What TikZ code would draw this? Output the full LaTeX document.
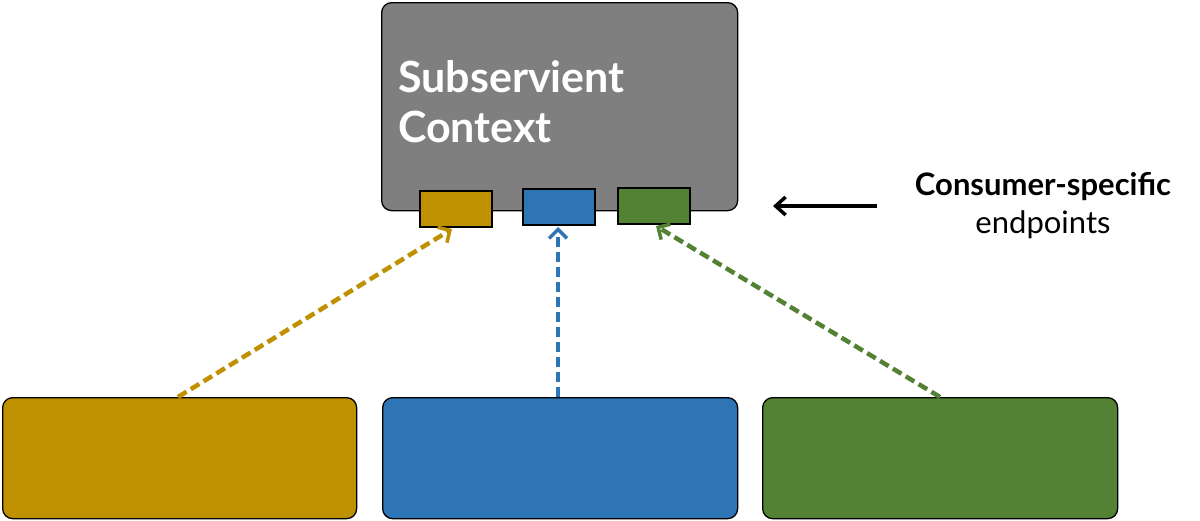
\documentclass[tikz,border=0pt]{standalone}
\usepackage{fontspec}
\setmainfont{Lato}
\usetikzlibrary{arrows.meta}
\definecolor{gold}{RGB}{191,144,0}
\definecolor{bl}{RGB}{46,117,182}
\definecolor{gr}{RGB}{84,130,53}
\definecolor{gy}{RGB}{127,127,127}
\begin{document}
\begin{tikzpicture}[x=1pt,y=-1pt,
 box/.style={draw=black,line width=1.3pt,rounded corners=10pt},
 ep/.style={draw=black,line width=1.3pt,minimum width=72pt,minimum height=36pt,inner sep=0},
 dl/.style={dashed,dash pattern=on 10pt off 5pt,line width=4.5pt,-{Straight Barb[length=9pt,width=18pt,line width=3.5pt]}}]
\useasboundingbox (0,0) rectangle (1200,520);
\node[box,fill=gy,minimum width=356pt,minimum height=208pt,anchor=north west] (main) at (381,2) {};
\node[anchor=north west,text=white,font=\bfseries\fontsize{43}{50}\selectfont,align=left,inner sep=0] (t) at (398,60) {Subservient\\Context};
\node[ep,fill=gold] (e1) at (456,209) {};
\node[ep,fill=bl] (e2) at (559,207) {};
\node[ep,fill=gr] (e3) at (654,206) {};
\node[box,fill=gold,minimum width=354pt,minimum height=121pt,anchor=north west] (b1) at (2,397) {};
\node[box,fill=bl,minimum width=355pt,minimum height=121pt,anchor=north west] (b2) at (382,397) {};
\node[box,fill=gr,minimum width=355pt,minimum height=121pt,anchor=north west] (b3) at (762,397) {};
\coordinate (s1) at (178,397);
\coordinate (s2) at (558,397);
\coordinate (s3) at (940,397);
\draw[dl,gold] (s1) -- (452,229);
\draw[dl,bl] (s2) -- (558,227);
\draw[dl,gr] (s3) -- (656,226);
\node[font=\fontsize{31}{38}\selectfont,align=center] (lab) at (1043,206) {\textbf{Consumer-specific}\\endpoints};
\coordinate (ae) at (773,206);
\draw[line width=3.5pt,-{Straight Barb[length=10pt,width=18pt,line width=3.5pt]}] (877,206) -- (ae);
\end{tikzpicture}
\end{document}
